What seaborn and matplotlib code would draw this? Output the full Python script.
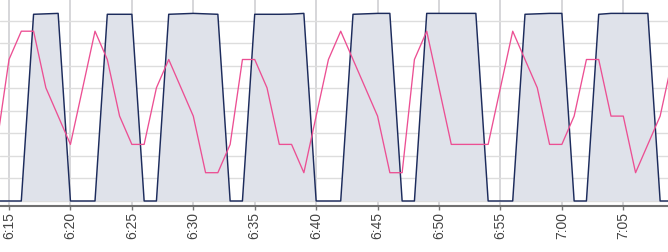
import matplotlib
matplotlib.use("Agg")
import matplotlib.pyplot as plt
import seaborn as sns
import pandas as pd
import numpy as np

# minutes past 6:00
minutes = list(range(14, 70))
load = [0, 0, 0, 8.28, 8.30, 8.32, 0, 0, 0, 8.28, 8.28, 8.28, 0, 0,
        8.28, 8.30, 8.32, 8.30, 8.28, 0, 0, 8.28, 8.28, 8.28, 8.29, 8.32,
        0, 0, 0, 8.28, 8.30, 8.32, 8.32, 0, 0, 8.32, 8.32, 8.32, 8.32, 8.32,
        0, 0, 0, 8.28, 8.30, 8.32, 8.32, 0, 0, 8.28, 8.32, 8.32, 8.32, 8.32,
        0, 0]
level = [2, 5, 6, 6, 4, 3, 2, 4, 6, 5, 3, 2, 2, 4, 5, 4, 3, 1, 1, 2, 5, 5,
         4, 2, 2, 1, 3, 5, 6, 5, 4, 3, 1, 1, 5, 6, 4, 2, 2, 2, 2, 4, 6, 5,
         4, 2, 2, 3, 5, 5, 3, 3, 1, 2, 3, 5]
tick_minutes = [15, 20, 25, 30, 35, 40, 45, 50, 55, 60, 65]
tick_labels = ["6:15", "6:20", "6:25", "6:30", "6:35", "6:40", "6:45",
               "6:50", "6:55", "7:00", "7:05"]

df = pd.DataFrame({"minute": minutes, "load": load, "level": level})

sns.set_theme(style="white")
plt.rcParams['font.family'] = ['Liberation Sans', 'DejaVu Sans']

fig = plt.figure(figsize=(6.68, 2.52), dpi=100)
ax = fig.add_axes([0, 1 - 205.5 / 252, 1, 205.5 / 252])

navy = "#1c2b5c"
pink = "#ec4f93"

ax.fill_between(df["minute"], df["load"], 0, color="#dfe2ea", zorder=2, lw=0)
sns.lineplot(data=df, x="minute", y="load", ax=ax, color=navy, lw=1.05, zorder=3)

ax.set_xlim(14.267, 68.64)
ax.set_ylim(-0.2, 201 / 22.55)
ax.set_yticks(range(0, 9))
ax.set_yticklabels([])
ax.tick_params(axis="y", length=0)
ax.set_xticks(tick_minutes)
ax.set_xticklabels(tick_labels, rotation=90, fontsize=10, color="#444444")
ax.tick_params(axis="x", length=3, width=1, color="#777777", pad=1.5, direction="out", bottom=True)
ax.grid(axis="y", color="#dddddd", lw=1, zorder=0)
ax.grid(axis="x", color="#cfcfd3", lw=1.2, zorder=0)
ax.set_axisbelow(True)
for s in ["top", "left", "right"]:
    ax.spines[s].set_visible(False)
ax.spines["bottom"].set_color("#707070")
ax.spines["bottom"].set_linewidth(1.5)
ax.set_xlabel("")
ax.set_ylabel("")

ax2 = ax.twinx()
sns.lineplot(data=df, x="minute", y="level", ax=ax2, color=pink, lw=0.95, zorder=4)
ax2.set_ylim(-4.5 / 28.3, 201 / 28.3)
ax2.set_yticks([])
ax2.set_ylabel("")
for s in ["top", "left", "right", "bottom"]:
    ax2.spines[s].set_visible(False)
ax2.set_xlim(14.267, 68.64)

fig.savefig("out.png", dpi=100)
